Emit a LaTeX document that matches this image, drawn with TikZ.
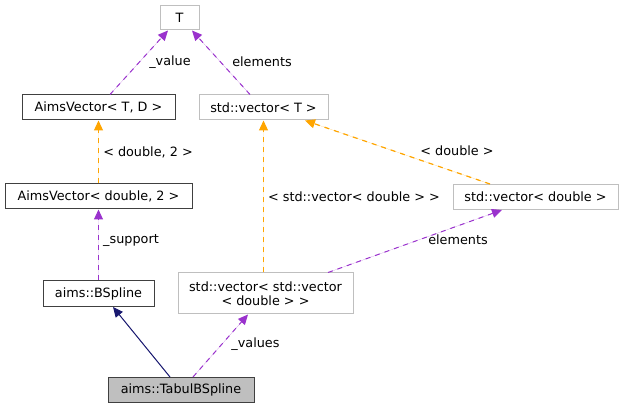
\documentclass[tikz,border=0pt]{standalone}
\usepackage{fontspec}
\setmainfont{DejaVu Sans}
\usetikzlibrary{arrows.meta,calc}
\definecolor{edgepurple}{HTML}{9A32CD}
\definecolor{edgeorange}{HTML}{FFA500}
\definecolor{edgenavy}{HTML}{191970}
\definecolor{lightborder}{HTML}{BFBFBF}
\definecolor{darkborder}{HTML}{404040}
\definecolor{selfill}{HTML}{BFBFBF}
\tikzset{
  nodebox/.style={rectangle, inner sep=0pt, line width=0.75pt, align=center,
    font=\fontsize{9.6}{10.7}\selectfont},
  linked/.style={nodebox, draw=darkborder},
  unlinked/.style={nodebox, draw=lightborder},
  current/.style={nodebox, draw=darkborder, fill=selfill},
  tip/.style={-{Triangle[length=7.5pt,width=6.75pt]}},
  member/.style={tip, draw=edgepurple, fill=edgepurple, line width=0.75pt, dash pattern=on 3.75pt off 3.75pt},
  templ/.style={tip, draw=edgeorange, fill=edgeorange, line width=0.9pt, dash pattern=on 3.75pt off 3.75pt},
  inherit/.style={tip, draw=edgenavy, fill=edgenavy, line width=0.75pt},
  elabel/.style={font=\fontsize{9.6}{10.7}\selectfont, inner sep=0pt}
}
\begin{document}
\begin{tikzpicture}[x=0.75pt,y=-0.75pt]
\useasboundingbox (0,0) rectangle (624,409);
\node[unlinked, minimum width=29.25pt, minimum height=18pt] (T) at (179.5,18) {T};
\node[linked, minimum width=114.75pt, minimum height=18.75pt] (avTD) at (98.5,107.5) {AimsVector< T, D >};
\node[unlinked, minimum width=96.75pt, minimum height=18.75pt] (svT) at (263.5,107.5) {std::vector< T >};
\node[linked, minimum width=140.25pt, minimum height=18.75pt] (avd2) at (98.5,196.5) {AimsVector< double, 2 >};
\node[unlinked, minimum width=123.75pt, minimum height=18.75pt] (svd) at (535.5,197) {std::vector< double >};
\node[linked, minimum width=83.25pt, minimum height=19.5pt] (bsp) at (98.5,293.5) {aims::BSpline};
\node[unlinked, minimum width=131.25pt, minimum height=30.75pt] (svsv) at (265.5,293.5) {std::vector< std::vector\\< double > >};
\node[current, minimum width=109.5pt, minimum height=18.75pt] (tab) at (181,390) {aims::TabulBSpline};

\draw[member] ($(avTD.north)+(11.5,0)$) -- ($(T.south)+(-11.5,0)$);
\node[elabel] (l1) at (170,62) {\_value};
\draw[member] ($(svT.north)+(-13.5,0)$) -- ($(T.south)+(12.5,0)$);
\node[elabel] (l2) at (262,62) {elements};
\draw[templ] (avd2.north) -- (avTD.south);
\node[elabel] (l3) at (148,152) {< double, 2 >};
\draw[templ] ($(svsv.north)+(-2,0)$) -- (svT.south);
\node[elabel] (l4) at (354,197) {< std::vector< double > >};
\draw[templ] ($(svd.north)+(-45.5,0)$) -- ($(svT.south)+(41.5,0)$);
\node[elabel] (l5) at (457,151) {< double >};
\draw[member] ($(svsv.north)+(62.5,0)$) -- ($(svd.south)+(-33.5,0)$);
\node[elabel] (l6) at (458,240) {elements};
\draw[member] (bsp.north) -- (avd2.south);
\node[elabel] (l7) at (131,241) {\_support};
\draw[inherit] ($(tab.north)+(-11,0)$) -- ($(bsp.south)+(14.5,0)$);
\draw[member] ($(tab.north)+(12,0)$) -- ($(svsv.south)+(-17.5,0)$);
\node[elabel] (l8) at (255.5,344) {\_values};
\end{tikzpicture}
\end{document}
